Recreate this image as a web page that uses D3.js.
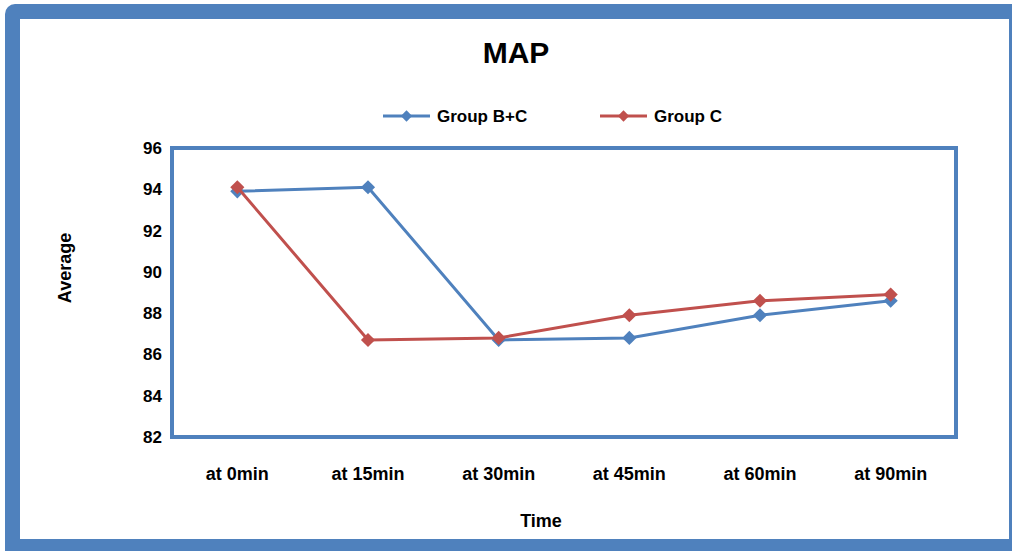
<!DOCTYPE html>
<html>
<head>
<meta charset="utf-8">
<script src="https://cdn.jsdelivr.net/npm/d3@7"></script>
<style>
  html, body { margin: 0; padding: 0; background: #ffffff; }
  svg { display: block; }
  text { font-family: "Liberation Sans", "Open Sans", sans-serif; font-weight: bold; fill: #000; }
</style>
</head>
<body>
<svg id="chart" width="1012" height="551"></svg>
<script>
// Time points and mean arterial pressure per group
const categories = ["at 0min", "at 15min", "at 30min", "at 45min", "at 60min", "at 90min"];
const groupBC = [93.9, 94.1, 86.7, 86.8, 87.9, 88.6];
const groupC  = [94.1, 86.7, 86.8, 87.9, 88.6, 88.9];
const seriesNames = ["Group B+C", "Group C"];
const yTicks = [82, 84, 86, 88, 90, 92, 94, 96];

const blue = "#4F81BD";
const red = "#C0504D";

const svg = d3.select("#chart");

// Outer frame with rounded corners
svg.append("rect")
  .attr("x", 5).attr("y", 4).attr("width", 1030).attr("height", 570)
  .attr("rx", 10).attr("fill", blue);
svg.append("rect")
  .attr("x", 20).attr("y", 19).attr("width", 989).attr("height", 520)
  .attr("fill", "#ffffff");

// Plot area
const plot = { left: 172, top: 148, right: 956, bottom: 437 };

const x = d3.scaleBand().domain(categories).range([plot.left, plot.right]);
const y = d3.scaleLinear().domain([82, 96]).range([plot.bottom, plot.top]);

svg.append("rect")
  .attr("x", plot.left).attr("y", plot.top)
  .attr("width", plot.right - plot.left).attr("height", plot.bottom - plot.top)
  .attr("fill", "none").attr("stroke", blue).attr("stroke-width", 4);

// Y axis labels
const yAxis = d3.axisLeft(y).tickValues(yTicks).tickSize(0).tickPadding(10);
const gy = svg.append("g").attr("transform", `translate(${plot.left},0)`).call(yAxis);
gy.select(".domain").remove();
gy.selectAll("text").style("font-size", "17px")
  .style("font-family", '"Liberation Sans", sans-serif')
  .style("font-weight", "bold").attr("fill", "#000");

// X axis labels
const xAxis = d3.axisBottom(x).tickSize(0).tickPadding(30);
const gx = svg.append("g").attr("transform", `translate(0,${plot.bottom})`).call(xAxis);
gx.select(".domain").remove();
gx.selectAll("text").style("font-size", "18px")
  .style("font-family", '"Liberation Sans", sans-serif')
  .style("font-weight", "bold").attr("fill", "#000");

// Titles
svg.append("text").attr("x", 516).attr("y", 63).attr("text-anchor", "middle")
  .style("font-size", "30px").text("MAP");
svg.append("text").attr("x", 541).attr("y", 527).attr("text-anchor", "middle")
  .style("font-size", "18px").text("Time");
svg.append("text").attr("transform", "translate(71,268) rotate(-90)")
  .attr("text-anchor", "middle").style("font-size", "18px").text("Average");

// Series: lines with diamond markers (squares turned 45°)
const marker = d3.symbol().type(d3.symbolSquare).size(100);
const line = d3.line().x((d, i) => x(categories[i]) + x.bandwidth() / 2).y(d => y(d));

[[groupBC, blue], [groupC, red]].forEach(([vals, color]) => {
  svg.append("path").datum(vals)
    .attr("d", line).attr("fill", "none")
    .attr("stroke", color).attr("stroke-width", 3);
  svg.selectAll(null).data(vals).enter().append("path")
    .attr("d", marker)
    .attr("transform", (d, i) => `translate(${x(categories[i]) + x.bandwidth() / 2},${y(d)}) rotate(45)`)
    .attr("fill", color);
});

// Legend
const legend = [
  { name: seriesNames[0], color: blue, x: 383 },
  { name: seriesNames[1], color: red, x: 600 }
];
legend.forEach(l => {
  const g = svg.append("g").attr("transform", `translate(${l.x},116)`);
  g.append("line").attr("x1", 0).attr("x2", 47).attr("y1", 0).attr("y2", 0)
    .attr("stroke", l.color).attr("stroke-width", 3);
  g.append("path").attr("d", d3.symbol().type(d3.symbolSquare).size(64))
    .attr("transform", "translate(23.5,0) rotate(45)").attr("fill", l.color);
  g.append("text").attr("x", 54).attr("y", 6).style("font-size", "17px").text(l.name);
});
</script>
</body>
</html>
